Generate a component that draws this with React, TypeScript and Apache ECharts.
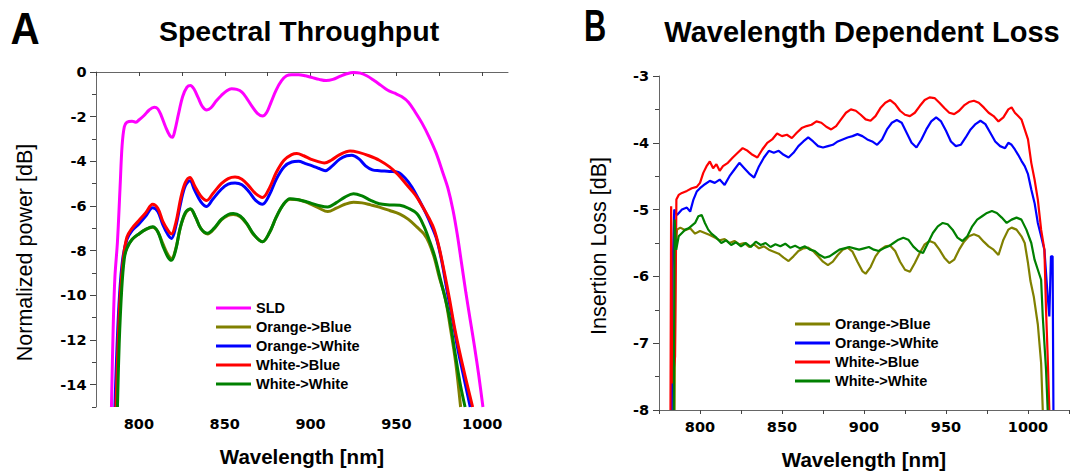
import React, { useEffect, useRef } from "react";
import * as echarts from "echarts";

type P = [number, number];

const FONT = '"Liberation Sans", Arial, Helvetica, sans-serif';
const TICK_FONT = '"DejaVu Sans", Verdana, sans-serif';

const namesA = ["SLD", "Orange->Blue", "Orange->White", "White->Blue", "White->White"];
const namesB = ["Orange->Blue", "Orange->White", "White->Blue", "White->White"];
const colorOf: Record<string, string> = {
  "SLD": "#ff00ff",
  "Orange->Blue": "#808000",
  "Orange->White": "#0000ff",
  "White->Blue": "#ff0000",
  "White->White": "#008000",
};

const xTicksA = [775, 800, 825, 850, 875, 900, 925, 950, 975, 1000];
const xTicksB = [775, 800, 825, 850, 875, 900, 925, 950, 975, 1000, 1025];
const xLabels = [800, 850, 900, 950, 1000];
const yMajorA = [0, -2, -4, -6, -8, -10, -12, -14];
const yMinorA = [-1, -3, -5, -7, -9, -11, -13, -15];
const yMajorB = [-3, -4, -5, -6, -7, -8];
const yMinorB = [-3.5, -4.5, -5.5, -6.5, -7.5];

// Panel A: Spectral Throughput (wavelength nm, normalized power dB)
const sldA: P[] = [[784,-15],[785,-11.5],[786,-9.2],[787.5,-7.6],[789,-5.2],[790.2,-3.3],[791.5,-2.45],[793,-2.25],[796,-2.2],[798,-2.25],[800,-2.15],[803,-1.95],[806,-1.7],[809,-1.58],[811,-1.65],[813,-1.95],[815.5,-2.45],[818,-2.85],[819.5,-2.92],[821,-2.6],[823,-1.9],[825.5,-1.1],[828,-0.68],[830,-0.6],[832,-0.75],[834.5,-1.15],[837,-1.55],[839.5,-1.7],[842,-1.6],[845,-1.3],[848,-1.05],[851,-0.85],[854,-0.75],[857,-0.78],[860,-0.9],[863,-1.2],[866,-1.55],[869,-1.85],[872,-1.97],[874.5,-1.8],[877,-1.35],[880,-0.8],[883,-0.4],[886,-0.17],[889,-0.12],[893,-0.12],[897,-0.17],[901,-0.25],[905,-0.33],[909,-0.38],[913,-0.33],[917,-0.2],[921,-0.08],[925,-0.02],[929,-0.05],[933,-0.18],[937,-0.38],[941,-0.6],[945,-0.82],[949,-0.95],[953,-1.1],[957,-1.35],[961,-1.8],[965,-2.3],[969,-2.9],[973,-3.6],[977,-4.5],[980,-5.2],[983,-6.2],[985.5,-7.3],[988,-8.6],[990.5,-9.9],[993,-11.1],[995.5,-12.3],[998,-13.6],[1000.4,-15]];
const obA: P[] = [[787,-15],[788,-12.2],[789.5,-9.8],[791,-8.4],[793,-7.85],[796,-7.5],[800,-7.25],[804,-7.05],[808,-6.95],[811,-7.15],[814,-7.7],[817,-8.2],[819,-8.35],[821.5,-7.9],[824,-7.0],[827,-6.35],[830,-6.15],[833,-6.5],[836,-7.0],[840,-7.25],[844,-7.0],[848,-6.62],[852,-6.42],[855,-6.38],[859,-6.48],[863,-6.82],[867,-7.3],[872,-7.6],[876,-7.2],[880,-6.5],[884,-5.95],[888,-5.7],[893,-5.72],[899,-5.88],[905,-6.1],[910,-6.25],[915,-6.1],[920,-5.92],[925,-5.83],[930,-5.86],[935,-5.95],[940,-6.05],[946,-6.2],[952,-6.36],[957,-6.6],[962,-6.95],[966,-7.25],[969,-7.65],[972,-8.3],[975,-9.2],[978.4,-10.1],[981.5,-11.5],[984.5,-13.0],[987.4,-15]];
const owA: P[] = [[786,-15],[787.3,-12.2],[788.7,-10],[790.5,-8.4],[793,-7.5],[796,-7.1],[800,-6.8],[804,-6.45],[808,-6.08],[811,-6.25],[814,-6.85],[817,-7.3],[819,-7.45],[821.5,-6.9],[824.5,-5.8],[827,-5.1],[829.7,-4.87],[832.5,-5.3],[836,-5.8],[839.5,-6.02],[843,-5.7],[848,-5.25],[852,-5.02],[856,-4.97],[860,-5.05],[864,-5.35],[868,-5.75],[872,-5.92],[876,-5.5],[880,-4.8],[884.5,-4.25],[889,-4.03],[893,-4.0],[897,-4.1],[901,-4.2],[905,-4.32],[908.5,-4.42],[912,-4.25],[917,-3.9],[921,-3.75],[924,-3.73],[928,-3.88],[932,-4.2],[936,-4.38],[940,-4.42],[946,-4.45],[951,-4.5],[955,-4.75],[959,-5.15],[963,-5.7],[967,-6.3],[970.5,-6.9],[973.5,-7.5],[976.5,-8.5],[979.5,-9.8],[982.5,-11.0],[985.5,-12.3],[988.5,-13.4],[993,-15]];
const wbA: P[] = [[786.6,-15],[787.8,-12.2],[789,-10.1],[791,-8.3],[793,-7.4],[796,-7.0],[800,-6.65],[804,-6.3],[808,-5.92],[811,-6.1],[814,-6.7],[817,-7.1],[819,-7.25],[821.5,-6.75],[824.5,-5.6],[827,-4.95],[829.7,-4.72],[832.5,-5.1],[836,-5.55],[839.5,-5.75],[843,-5.45],[848,-5.0],[852,-4.77],[856,-4.7],[860,-4.8],[864,-5.1],[868,-5.45],[872,-5.62],[876,-5.2],[880,-4.5],[884.5,-3.95],[889,-3.7],[892,-3.65],[896,-3.75],[900,-3.9],[904,-4.0],[908,-4.07],[912,-3.95],[917,-3.7],[923,-3.54],[928,-3.6],[934,-3.75],[940,-3.95],[946,-4.25],[951,-4.6],[956,-5.05],[961,-5.5],[965,-6.0],[969,-6.55],[972,-7.05],[975,-7.9],[978,-9.0],[981,-10.2],[984,-11.5],[987,-12.6],[990,-13.6],[994.4,-15]];
const wwA: P[] = [[787.5,-15],[788.5,-12.2],[790,-9.7],[791.5,-8.35],[793,-7.9],[796,-7.5],[800,-7.25],[804,-7.05],[808,-6.93],[811,-7.15],[814,-7.8],[817,-8.3],[819,-8.43],[821.5,-7.95],[824,-7.0],[827,-6.3],[830,-6.12],[833,-6.5],[836,-7.0],[840,-7.22],[844,-6.98],[848,-6.6],[852,-6.38],[855,-6.34],[859,-6.45],[863,-6.8],[867,-7.28],[872,-7.6],[876,-7.2],[880,-6.5],[884,-5.95],[888,-5.67],[893,-5.72],[898,-5.82],[904,-5.96],[910,-6.05],[915,-5.85],[920,-5.6],[925,-5.45],[930,-5.55],[935,-5.75],[940,-5.9],[946,-5.95],[952,-5.97],[957,-6.1],[962,-6.35],[966,-6.9],[969,-7.5],[972.4,-8.28],[976,-9.4],[980.4,-10.8],[984,-12.5],[987,-13.9],[990,-15]];

// Panel B: Wavelength Dependent Loss (wavelength nm, insertion loss dB)
const obB: P[] = [[784.5,-8],[785,-5.6],[786,-5.3],[788,-5.27],[791,-5.31],[794,-5.28],[797,-5.36],[800,-5.32],[803,-5.35],[806,-5.38],[809,-5.42],[812,-5.46],[815,-5.44],[818,-5.5],[821,-5.47],[824,-5.52],[827,-5.5],[830,-5.56],[833,-5.52],[836,-5.58],[839,-5.55],[842,-5.6],[845,-5.63],[848,-5.66],[851,-5.72],[854,-5.77],[857,-5.7],[860,-5.62],[863,-5.58],[866,-5.57],[869,-5.62],[872,-5.7],[875,-5.78],[878,-5.83],[881,-5.78],[884,-5.68],[887,-5.6],[890,-5.57],[893,-5.63],[896,-5.78],[899,-5.92],[901,-5.96],[904,-5.86],[907,-5.7],[910,-5.6],[913,-5.55],[916,-5.54],[919,-5.62],[922,-5.78],[925,-5.9],[928,-5.93],[931,-5.8],[934,-5.65],[937,-5.52],[940,-5.47],[943,-5.5],[946,-5.6],[949,-5.72],[952,-5.8],[955,-5.75],[958,-5.6],[961,-5.48],[964,-5.4],[967,-5.37],[970,-5.4],[973,-5.48],[976,-5.55],[979,-5.6],[982,-5.68],[985,-5.45],[988,-5.3],[990,-5.27],[993,-5.3],[996,-5.4],[998,-5.5],[1000,-5.8],[1001.5,-6.07],[1003.5,-6.3],[1006,-6.72],[1008,-7.3],[1009,-8]];
const owB: P[] = [[782.8,-8],[783.3,-5.9],[784.3,-5.0],[786,-5.08],[789,-5.0],[792,-4.97],[794,-5.03],[796,-4.85],[798,-4.73],[800,-4.68],[803,-4.62],[806,-4.57],[809,-4.6],[812,-4.55],[815,-4.63],[818,-4.5],[821,-4.4],[824,-4.3],[827,-4.38],[830,-4.46],[833,-4.52],[836,-4.35],[839,-4.22],[842,-4.12],[845,-4.15],[848,-4.12],[851,-4.18],[854,-4.22],[857,-4.15],[860,-4.05],[863,-3.98],[866,-3.92],[869,-3.98],[872,-4.05],[875,-4.07],[878,-4.05],[881,-4.03],[884,-3.98],[887,-3.95],[890,-3.92],[893,-3.9],[896,-3.87],[899,-3.9],[902,-3.95],[905,-3.98],[908,-4.03],[911,-3.95],[914,-3.8],[917,-3.7],[920,-3.66],[923,-3.7],[926,-3.85],[929,-4.0],[932,-4.07],[935,-3.95],[938,-3.8],[941,-3.68],[944,-3.62],[947,-3.68],[950,-3.82],[953,-3.98],[956,-4.05],[959,-4.03],[962,-3.92],[965,-3.8],[968,-3.72],[971,-3.67],[974,-3.72],[977,-3.85],[980,-3.98],[983,-4.05],[986,-4.08],[988,-4.0],[990,-4.03],[992,-4.1],[994,-4.18],[996,-4.27],[998,-4.35],[1000,-4.47],[1002,-4.7],[1004,-4.9],[1006,-5.2],[1008,-5.4],[1010,-5.6],[1012,-6.3],[1013,-6.6],[1014,-5.7],[1015,-5.7],[1015.5,-8]];
const wbB: P[] = [[782,-8],[782.4,-4.95],[783,-7.6],[784.8,-7.2],[785.6,-4.85],[787,-4.78],[789,-4.75],[792,-4.72],[795,-4.68],[798,-4.66],[800,-4.6],[802,-4.45],[804,-4.35],[806,-4.28],[808,-4.38],[810,-4.32],[812,-4.42],[814,-4.35],[817,-4.3],[820,-4.22],[823,-4.15],[826,-4.08],[829,-4.12],[832,-4.18],[835,-4.22],[838,-4.1],[841,-4.0],[844,-3.95],[847,-3.86],[850,-3.9],[853,-3.88],[856,-3.93],[859,-3.85],[862,-3.78],[865,-3.75],[868,-3.73],[871,-3.68],[874,-3.7],[877,-3.76],[880,-3.8],[883,-3.75],[886,-3.65],[889,-3.55],[892,-3.5],[895,-3.52],[898,-3.58],[901,-3.65],[904,-3.67],[907,-3.6],[910,-3.48],[913,-3.4],[916,-3.36],[919,-3.42],[922,-3.52],[925,-3.58],[928,-3.6],[931,-3.55],[934,-3.45],[937,-3.36],[940,-3.32],[943,-3.33],[946,-3.4],[949,-3.48],[952,-3.55],[955,-3.57],[958,-3.52],[961,-3.44],[964,-3.39],[967,-3.37],[970,-3.4],[973,-3.47],[976,-3.55],[979,-3.6],[982,-3.68],[985,-3.62],[988,-3.5],[990,-3.47],[992,-3.55],[994,-3.6],[996,-3.65],[998,-3.8],[1000,-3.95],[1002,-4.3],[1004,-4.55],[1006,-4.85],[1008,-5.3],[1010,-5.6],[1011,-6.5],[1012,-7.2],[1013,-8]];
const wwB: P[] = [[784,-8],[784.5,-5.15],[785.5,-5.6],[787,-5.4],[789,-5.35],[791,-5.3],[793,-5.28],[795,-5.24],[797,-5.2],[799,-5.1],[801,-5.08],[803,-5.2],[805,-5.3],[807,-5.36],[810,-5.42],[813,-5.5],[816,-5.46],[819,-5.53],[822,-5.49],[825,-5.55],[828,-5.5],[831,-5.56],[834,-5.48],[837,-5.53],[840,-5.5],[843,-5.56],[846,-5.52],[849,-5.55],[852,-5.51],[855,-5.57],[858,-5.54],[861,-5.58],[864,-5.55],[867,-5.6],[870,-5.62],[873,-5.68],[876,-5.72],[879,-5.7],[882,-5.65],[885,-5.6],[888,-5.58],[891,-5.56],[894,-5.58],[897,-5.6],[900,-5.58],[903,-5.56],[906,-5.6],[909,-5.62],[912,-5.58],[915,-5.55],[918,-5.5],[921,-5.45],[924,-5.42],[927,-5.45],[930,-5.55],[933,-5.62],[936,-5.65],[939,-5.5],[942,-5.35],[945,-5.25],[948,-5.2],[951,-5.22],[954,-5.3],[957,-5.42],[960,-5.47],[963,-5.4],[966,-5.25],[969,-5.15],[972,-5.1],[975,-5.05],[978,-5.02],[981,-5.05],[984,-5.12],[987,-5.2],[990,-5.15],[993,-5.12],[996,-5.15],[999,-5.3],[1002,-5.5],[1004,-5.75],[1006,-5.9],[1008,-6.05],[1009,-6.6],[1010,-7.0],[1011,-7.4],[1012,-8]];

const dataA: P[][] = [sldA, obA, owA, wbA, wwA];
const dataB: P[][] = [obB, owB, wbB, wwB];

const AXIS_COLOR = "#666";
const TICK_COLOR = "#444";
const plain = (v: number) => String(v);

function xAxis(gridIndex: number, min: number, max: number, ticks: number[]) {
  return {
    type: "value",
    gridIndex,
    min,
    max,
    position: "bottom",
    axisLine: { show: true, lineStyle: { color: AXIS_COLOR, width: 1 } },
    axisTick: { show: true, length: 4, customValues: ticks, lineStyle: { color: TICK_COLOR } },
    axisLabel: {
      customValues: xLabels,
      formatter: plain,
      margin: 9,
      color: "#000",
      fontFamily: TICK_FONT,
      fontWeight: "bold",
      fontSize: 14.5,
    },
    splitLine: { show: false },
  };
}

function yMajor(gridIndex: number, min: number, max: number, ticks: number[], margin: number) {
  return {
    type: "value",
    gridIndex,
    min,
    max,
    position: "left",
    axisLine: { show: true, onZero: false, lineStyle: { color: AXIS_COLOR, width: 1 } },
    axisTick: { show: true, length: 6, customValues: ticks, lineStyle: { color: TICK_COLOR } },
    axisLabel: {
      customValues: ticks,
      formatter: plain,
      margin,
      color: "#000",
      fontFamily: TICK_FONT,
      fontWeight: "bold",
      fontSize: 14.5,
    },
    splitLine: { show: false },
  };
}

function yMinor(gridIndex: number, min: number, max: number, ticks: number[]) {
  return {
    type: "value",
    gridIndex,
    min,
    max,
    position: "left",
    offset: 0,
    axisLine: { show: false },
    axisTick: { show: true, length: 4, customValues: ticks, lineStyle: { color: TICK_COLOR } },
    axisLabel: { show: false },
    splitLine: { show: false },
  };
}

function legend(left: number, top: number, names: string[], lh: number) {
  return {
    left,
    top,
    orient: "vertical",
    padding: 0,
    itemGap: 3,
    itemWidth: 35,
    itemHeight: lh,
    icon: "rect",
    data: names,
    textStyle: {
      fontFamily: FONT,
      fontWeight: "bold",
      fontSize: 14.5,
      lineHeight: 16,
      color: "#000",
    },
  };
}

function label(text: string, x: number, y: number, font: string, extra: any = {}) {
  return {
    type: "text",
    x,
    y,
    ...extra,
    style: { text, font, fill: "#000", align: "center", verticalAlign: "middle" },
  };
}

export default function App() {
  const ref = useRef<HTMLDivElement>(null);

  useEffect(() => {
    if (!ref.current) return;
    const chart = echarts.init(ref.current, null, { renderer: "svg" });

    const series: any[] = [];
    namesA.forEach((name, i) => {
      series.push({
        name,
        type: "line",
        xAxisIndex: 0,
        yAxisIndex: 0,
        data: dataA[i],
        showSymbol: false,
        symbol: "none",
        smooth: 0.35,
        clip: true,
        color: colorOf[name],
        lineStyle: { width: 3, color: colorOf[name] },
        z: 2 + i,
      });
    });
    namesB.forEach((name, i) => {
      series.push({
        name,
        type: "line",
        xAxisIndex: 1,
        yAxisIndex: 2,
        data: dataB[i],
        showSymbol: false,
        symbol: "none",
        smooth: false,
        clip: true,
        color: colorOf[name],
        lineStyle: { width: 2.2, color: colorOf[name] },
        z: 2 + i,
      });
    });

    chart.setOption({
      animation: false,
      backgroundColor: "#ffffff",
      grid: [
        { left: 96, top: 72, width: 412, height: 335 },
        { left: 659, top: 76, width: 410, height: 334 },
      ],
      xAxis: [xAxis(0, 775, 1015, xTicksA), xAxis(1, 775, 1025, xTicksB)],
      yAxis: [
        yMajor(0, -15, 0, yMajorA, 9.5),
        yMinor(0, -15, 0, yMinorA),
        yMajor(1, -8, -3, yMajorB, 10),
        yMinor(1, -8, -3, yMinorB),
      ],
      legend: [legend(216, 300, namesA, 3), legend(795, 316, namesB, 3)],
      graphic: [
        label("A", 25, 28.5, `bold 44px ${FONT}`, { scaleX: 0.92 }),
        label("Spectral Throughput", 299, 30.7, `bold 28.5px ${FONT}`),
        label("B", 595, 26, `bold 44px ${FONT}`, { scaleX: 0.7 }),
        label("Wavelength Dependent Loss", 862, 31.5, `bold 29px ${FONT}`),
        label("Normalized power [dB]", 25, 252.5, `21.5px ${FONT}`, { rotation: Math.PI / 2 }),
        label("Insertion Loss [dB]", 599, 246, `21.5px ${FONT}`, { rotation: Math.PI / 2 }),
        label("Wavelength [nm]", 302, 456, `bold 20.5px ${FONT}`),
        label("Wavelength [nm]", 864, 459.5, `bold 20.5px ${FONT}`),
      ],
      series,
    });

    return () => chart.dispose();
  }, []);

  return (
    <div
      ref={ref}
      style={{ position: "absolute", left: 0, top: 0, width: 1071, height: 473, background: "#fff" }}
    />
  );
}
